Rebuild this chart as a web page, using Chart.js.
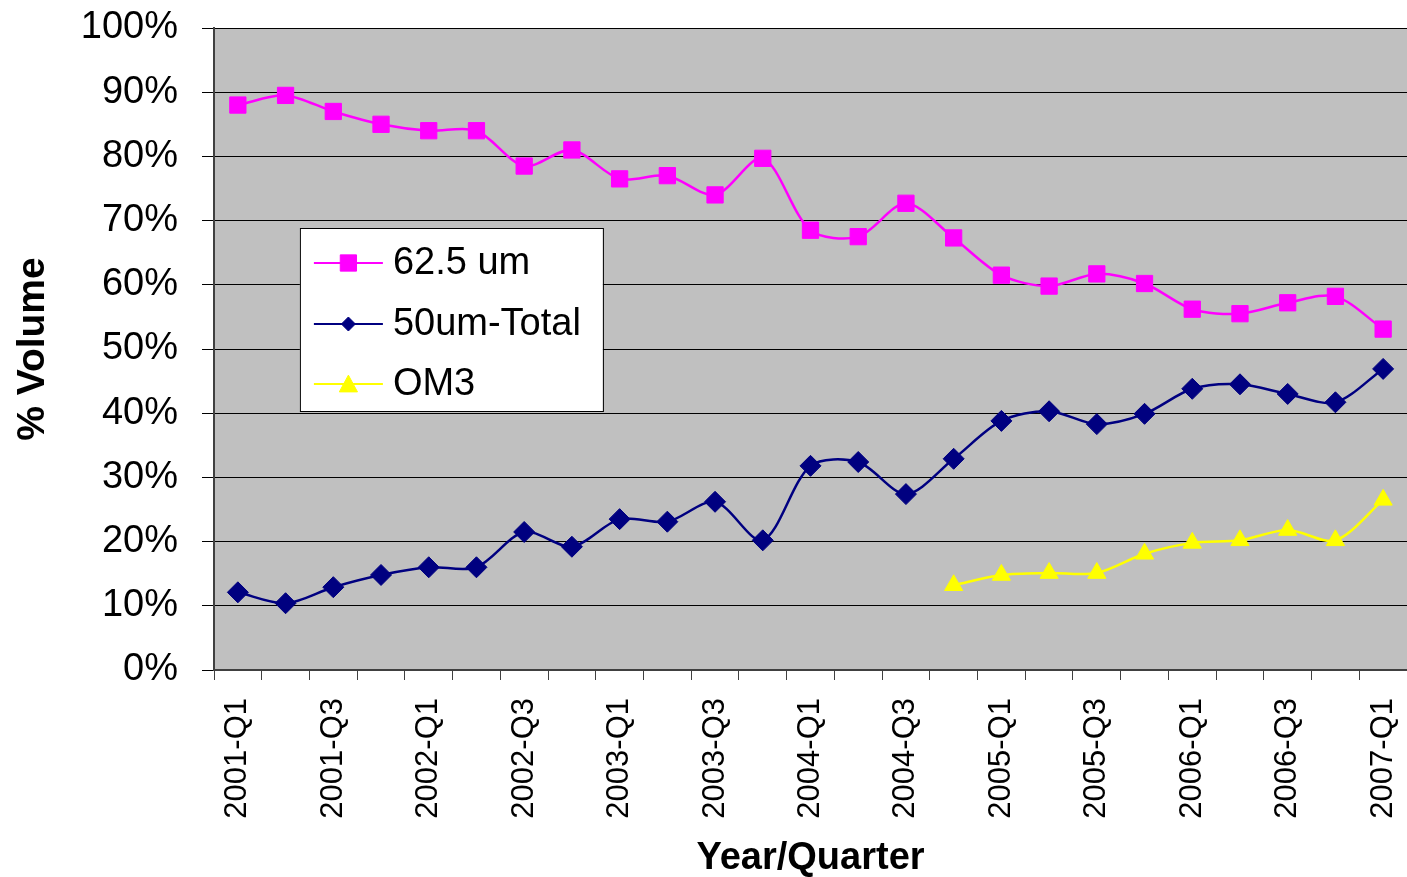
<!DOCTYPE html>
<html>
<head>
<meta charset="utf-8">
<title>Fiber volume by quarter</title>
<script src="https://cdn.jsdelivr.net/npm/chart.js@4.4.1/dist/chart.umd.min.js"></script>
<style>
  html, body { margin: 0; padding: 0; background: #fff; }
  #wrap { width: 1407px; height: 877px; position: relative; }
</style>
</head>
<body>
<div id="wrap"><canvas id="fiberChart"></canvas></div>
<script>
// ---------------------------------------------------------------------------
// Data
// ---------------------------------------------------------------------------
const quarters = [
    '2001-Q1', '2001-Q2', '2001-Q3', '2001-Q4',
    '2002-Q1', '2002-Q2', '2002-Q3', '2002-Q4',
    '2003-Q1', '2003-Q2', '2003-Q3', '2003-Q4',
    '2004-Q1', '2004-Q2', '2004-Q3', '2004-Q4',
    '2005-Q1', '2005-Q2', '2005-Q3', '2005-Q4',
    '2006-Q1', '2006-Q2', '2006-Q3', '2006-Q4',
    '2007-Q1'
];

const fiber625 = [88, 89.5, 87, 85, 84, 84, 78.5, 81, 76.5, 77, 74, 79.7,
    68.5, 67.5, 72.7, 67.3, 61.5, 59.8, 61.7, 60.2, 56.2, 55.5, 57.2, 58.2, 53.1];

const fiber50Total = [12.1, 10.4, 12.9, 14.8, 16, 16, 21.5, 19.2, 23.5, 23.1, 26.2, 20.2,
    31.8, 32.4, 27.4, 32.9, 38.8, 40.3, 38.3, 39.9, 43.8, 44.5, 43, 41.7, 46.9];

const om3 = [null, null, null, null, null, null, null, null, null, null, null, null,
    null, null, null, 13.2, 14.8, 15.1, 15.1, 18.1, 19.8, 20.2, 21.8, 20.2, 26.5];

const yTicks = [0, 10, 20, 30, 40, 50, 60, 70, 80, 90, 100];

// ---------------------------------------------------------------------------
// Helpers
// ---------------------------------------------------------------------------
const FONT = "'Liberation Sans', Arial, sans-serif";

function drawMarker(ctx, style, x, y, r, color) {
    ctx.save();
    ctx.fillStyle = color;
    ctx.strokeStyle = color;
    ctx.lineWidth = 1;
    ctx.beginPath();
    if (style === 'rect') {
        const s = r * Math.SQRT1_2;
        ctx.rect(x - s, y - s, 2 * s, 2 * s);
    } else if (style === 'rectRot') {
        ctx.moveTo(x - r, y);
        ctx.lineTo(x, y - r);
        ctx.lineTo(x + r, y);
        ctx.lineTo(x, y + r);
        ctx.closePath();
    } else {
        const h = r * 1.5;
        const w = r * Math.sqrt(3) / 2;
        ctx.moveTo(x, y - h / 2 - 1);
        ctx.lineTo(x + w, y + h / 2);
        ctx.lineTo(x - w, y + h / 2);
        ctx.closePath();
    }
    ctx.fill();
    ctx.stroke();
    ctx.restore();
}

// grey plot background
const plotBackground = {
    id: 'plotBackground',
    beforeDraw(chart) {
        const { ctx, chartArea } = chart;
        ctx.save();
        ctx.fillStyle = '#c0c0c0';
        ctx.fillRect(chartArea.left, chartArea.top,
            chartArea.right - chartArea.left, chartArea.bottom - chartArea.top);
        ctx.restore();
    }
};

// Excel-style legend box sitting inside the plot
const boxLegend = {
    id: 'boxLegend',
    afterDraw(chart) {
        const { ctx, chartArea } = chart;
        const w = chartArea.right - chartArea.left;
        const left = chartArea.left + w * 0.072;
        const top = 228;
        const boxW = 303;
        const boxH = 183;
        ctx.save();
        ctx.fillStyle = '#ffffff';
        ctx.fillRect(left, top, boxW, boxH);
        ctx.strokeStyle = '#000000';
        ctx.lineWidth = 1;
        ctx.strokeRect(left + 0.5, top + 0.5, boxW, boxH);

        const rowY = [35, 96, 156];
        chart.data.datasets.forEach((ds, i) => {
            const y = top + rowY[i];
            ctx.strokeStyle = ds.borderColor;
            ctx.lineWidth = 2;
            ctx.beginPath();
            ctx.moveTo(left + 14, y);
            ctx.lineTo(left + 83, y);
            ctx.stroke();
            const r = ds.pointStyle === 'rectRot' ? 7 : ds.pointRadius;
            drawMarker(ctx, ds.pointStyle, left + 48.5, y, r, ds.pointBackgroundColor);
            ctx.fillStyle = '#000';
            ctx.font = '38px ' + FONT;
            ctx.textBaseline = 'middle';
            ctx.textAlign = 'left';
            ctx.fillText(ds.label, left + 93, y + 1);
        });
        ctx.restore();
    }
};

// ---------------------------------------------------------------------------
// Chart
// ---------------------------------------------------------------------------
function makeSeries(label, data, color, pointStyle, radius) {
    return {
        label: label,
        data: data,
        borderColor: color,
        backgroundColor: color,
        pointBackgroundColor: color,
        pointBorderColor: color,
        pointBorderWidth: 1,
        pointStyle: pointStyle,
        pointRadius: radius,
        borderWidth: 2.5,
        tension: 0.3,
        fill: false,
        spanGaps: false
    };
}

const ctx = document.getElementById('fiberChart').getContext('2d');

const chart = new Chart(ctx, {
    type: 'line',
    data: {
        labels: quarters,
        datasets: [
            makeSeries('62.5 um', fiber625, '#ff00ff', 'rect', 11.5),
            makeSeries('50um-Total', fiber50Total, '#000080', 'rectRot', 10.5),
            makeSeries('OM3', om3, '#ffff00', 'triangle', 10.5)
        ]
    },
    options: {
        responsive: true,
        maintainAspectRatio: false,
        animation: false,
        events: [],
        layout: {
            autoPadding: false,
            padding: { top: 28, right: 0, left: 0, bottom: 0 }
        },
        plugins: {
            legend: { display: false },
            tooltip: { enabled: false }
        },
        scales: {
            x: {
                type: 'category',
                offset: true,
                afterFit: function(scale) {
                    scale.height = 207;
                    scale.paddingLeft = 0;
                    scale.paddingRight = 0;
                },
                border: { color: '#404040', width: 2 },
                grid: {
                    offset: true,
                    drawOnChartArea: false,
                    drawTicks: true,
                    tickLength: 10,
                    color: '#404040',
                    lineWidth: 1
                },
                ticks: {
                    autoSkip: false,
                    minRotation: 90,
                    maxRotation: 90,
                    padding: 18,
                    color: '#000',
                    font: { family: FONT, size: 31 },
                    callback: function(value, index) {
                        return index % 2 === 0 ? this.getLabelForValue(value) : '';
                    }
                },
                title: {
                    display: true,
                    text: 'Year/Quarter',
                    color: '#000',
                    font: { family: FONT, size: 38, weight: 'bold' },
                    padding: { top: 0, bottom: -4 }
                }
            },
            y: {
                min: yTicks[0],
                max: yTicks[yTicks.length - 1],
                afterFit: function(scale) {
                    scale.width = 214;
                    scale.paddingTop = 0;
                    scale.paddingBottom = 0;
                },
                afterBuildTicks: function(scale) {
                    scale.ticks = yTicks.map(v => ({ value: v }));
                },
                border: { color: '#404040', width: 2 },
                grid: {
                    color: '#000',
                    lineWidth: 1,
                    drawTicks: true,
                    tickLength: 12
                },
                ticks: {
                    padding: 24,
                    color: '#000',
                    font: { family: FONT, size: 38 },
                    callback: function(value) { return value + '%'; }
                },
                title: {
                    display: true,
                    text: '% Volume',
                    color: '#000',
                    font: { family: FONT, size: 39, weight: 'bold' },
                    padding: { top: 10, bottom: 0 }
                }
            }
        }
    },
    plugins: [plotBackground, boxLegend]
});
</script>
</body>
</html>
